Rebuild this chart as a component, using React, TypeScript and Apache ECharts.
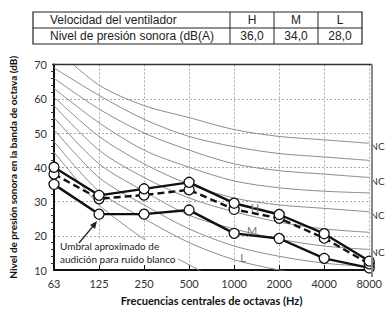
import React, { useEffect, useRef } from "react";
import * as echarts from "echarts";

const categories = ["63", "125", "250", "500", "1000", "2000", "4000", "8000"];
const seriesH = [40, 31.8, 33.7, 35.6, 29.5, 26.2, 20.6, 12.6];
const seriesM = [38, 30.8, 31.9, 33.4, 27.7, 25.1, 19.3, 11.8];
const seriesL = [35, 26.3, 26.3, 27.5, 20.7, 19.2, 13.4, 10.6];

const nc15 = [51, 37, 29, 22, 17, 14, 12, 11];
const nc20 = [54.5, 41, 33, 26, 22, 19, 17, 16];
const nc25 = [58, 45, 37, 31, 27, 24, 22, 21];
const nc30 = [60.5, 49, 41, 35, 31, 29, 28, 27];
const nc35 = [63, 53, 45, 40, 36, 34, 33, 32.5];
const nc40 = [66, 57, 50, 45, 41, 39, 38, 37];
const nc45 = [69, 61, 54, 49, 46, 44, 43, 42];
const nc50 = [75, 64, 58, 54.5, 51, 49, 48, 47];
const nc10 = [47.5, 33, 25, 18, 13, 10, 8, 7];
const threshold = [44.4, 29, 19, 11.5, 5, 2, 1, 1];

const ncCurves = [
  { name: "NC-10", data: nc10, label: false },
  { name: "NC-15", data: nc15, label: false },
  { name: "NC-20", data: nc20, label: true },
  { name: "NC-25", data: nc25, label: false },
  { name: "NC-30", data: nc30, label: true },
  { name: "NC-35", data: nc35, label: false },
  { name: "NC-40", data: nc40, label: true },
  { name: "NC-45", data: nc45, label: false },
  { name: "NC-50", data: nc50, label: true },
];

const tableHeader = ["Velocidad del ventilador", "H", "M", "L"];
const tableRow = ["Nivel de presión sonora (dB(A)", "36,0", "34,0", "28,0"];

export default function App() {
  const ref = useRef<HTMLDivElement>(null);
  useEffect(() => {
    if (!ref.current) return;
    const chart = echarts.init(ref.current, null, { renderer: "svg" });
    const font = "Liberation Sans, Arial, sans-serif";
    const colX = [33, 230, 274, 318, 362];
    const rowY = [12, 28, 44];
    const tableGraphics: any[] = [];
    tableGraphics.push({
      type: "rect",
      shape: { x: colX[0], y: rowY[0], width: colX[4] - colX[0], height: rowY[2] - rowY[0] },
      style: { fill: "#fff", stroke: "#222", lineWidth: 1.2 },
    });
    tableGraphics.push({
      type: "line",
      shape: { x1: colX[0], y1: rowY[1], x2: colX[4], y2: rowY[1] },
      style: { stroke: "#222", lineWidth: 1 },
    });
    for (let i = 1; i < 4; i++) {
      tableGraphics.push({
        type: "line",
        shape: { x1: colX[i], y1: rowY[0], x2: colX[i], y2: rowY[2] },
        style: { stroke: "#222", lineWidth: 1 },
      });
    }
    [tableHeader, tableRow].forEach((row, r) => {
      row.forEach((txt, c) => {
        const first = c === 0;
        tableGraphics.push({
          type: "text",
          x: first ? 50 : (colX[c] + colX[c + 1]) / 2,
          y: (rowY[r] + rowY[r + 1]) / 2,
          style: {
            text: txt,
            font: `12px ${font}`,
            fill: "#222",
            align: first ? "left" : "center",
            verticalAlign: "middle",
          },
        });
      });
    });

    const ncSeries = ncCurves.map((c) => ({
      name: c.name,
      type: "line",
      data: c.data,
      smooth: 0.3,
      symbol: "none",
      silent: true,
      z: 1,
      lineStyle: { color: "#8c8c8c", width: 1 },
      endLabel: c.label
        ? {
            show: true,
            formatter: c.name,
            color: "#333",
            fontSize: 10,
            fontFamily: "Lato",
            offset: [-7, 3],
          }
        : { show: false },
    }));

    const dataStyle = (dashed: boolean) => ({
      type: "line",
      symbol: "circle",
      symbolSize: 10,
      z: 5,
      itemStyle: { color: "#fff", borderColor: "#111", borderWidth: 1.3 },
      lineStyle: { color: "#111", width: 2.4, type: dashed ? [7, 4] : "solid" },
    });

    chart.setOption({
      animation: false,
      grid: { left: 52, right: 13, top: 64.5, bottom: 34, containLabel: false },
      xAxis: {
        type: "category",
        data: categories,
        boundaryGap: false,
        axisLine: { lineStyle: { color: "#111", width: 2 } },
        axisTick: { show: true, inside: true, length: 5, lineStyle: { color: "#111" } },
        axisLabel: { color: "#333", fontSize: 11, fontFamily: "Lato", margin: 8 },
        splitLine: { show: true, lineStyle: { color: "#aaa", type: [2, 2], width: 1 } },
        name: "Frecuencias centrales de octavas (Hz)",
        nameLocation: "middle",
        nameGap: 25,
        nameTextStyle: { fontSize: 11, fontWeight: "bold", fontFamily: "Lato", color: "#111" },
      },
      yAxis: {
        type: "value",
        min: 10,
        max: 70,
        interval: 10,
        axisLine: { show: true, lineStyle: { color: "#111", width: 2 } },
        axisTick: { show: false },
        minorTick: { show: true, splitNumber: 5, length: 3, lineStyle: { color: "#333" } },
        axisLabel: { color: "#333", fontSize: 11, fontFamily: "Lato", margin: 7 },
        splitLine: { show: true, lineStyle: { color: "#aaa", type: [2, 2], width: 1 } },
        name: "Nivel de presión sonora en la banda de octava (dB)",
        nameLocation: "middle",
        nameGap: 36,
        nameTextStyle: { fontSize: 10, fontWeight: "bold", fontFamily: "Lato", color: "#111" },
      },
      series: [
        ...ncSeries,
        {
          name: "threshold",
          type: "line",
          data: threshold,
          smooth: 0.2,
          symbol: "none",
          silent: true,
          z: 1,
          lineStyle: { color: "#8c8c8c", width: 1 },
        },
        { name: "L", data: seriesL, ...dataStyle(false) },
        { name: "M", data: seriesM, ...dataStyle(true) },
        { name: "H", data: seriesH, ...dataStyle(false) },
      ],
      graphic: [
        ...tableGraphics,
        {
          type: "line",
          shape: { x1: 52, y1: 64.5, x2: 372, y2: 64.5 },
          style: { stroke: "#333", lineWidth: 1.5 },
          z: 10,
        },
        {
          type: "line",
          shape: { x1: 372, y1: 64.5, x2: 372, y2: 277 },
          style: { stroke: "#888", lineWidth: 2 },
          z: 10,
        },
        {
          type: "text",
          x: 255,
          y: 207,
          style: { text: "H", font: "11px Lato", fill: "#777", align: "center", verticalAlign: "middle" },
          z: 10,
        },
        {
          type: "text",
          x: 252,
          y: 230,
          style: { text: "M", font: "11px Lato", fill: "#777", align: "center", verticalAlign: "middle" },
          z: 10,
        },
        {
          type: "text",
          x: 243,
          y: 257,
          style: { text: "L", font: "11px Lato", fill: "#777", align: "center", verticalAlign: "middle" },
          z: 10,
        },
        {
          type: "rect",
          shape: { x: 58, y: 240, width: 120, height: 25 },
          style: { fill: "#fff" },
          z: 8,
        },
        {
          type: "text",
          x: 60,
          y: 252,
          style: {
            text: "Umbral aproximado de\naudición para ruido blanco",
            font: "10px Lato",
            fill: "#222",
            align: "left",
            verticalAlign: "middle",
            lineHeight: 13,
          },
          z: 10,
        },
        {
          type: "line",
          shape: { x1: 79, y1: 243, x2: 94, y2: 225 },
          style: { stroke: "#222", lineWidth: 1.2 },
          z: 10,
        },
        {
          type: "polygon",
          shape: { points: [[97, 221], [90, 225], [95, 229]] },
          style: { fill: "#222" },
          z: 10,
        },
      ],
    });
    return () => chart.dispose();
  }, []);
  return (
    <div
      ref={ref}
      style={{ position: "absolute", left: 0, top: 0, width: 385, height: 311, background: "#fff" }}
    />
  );
}
